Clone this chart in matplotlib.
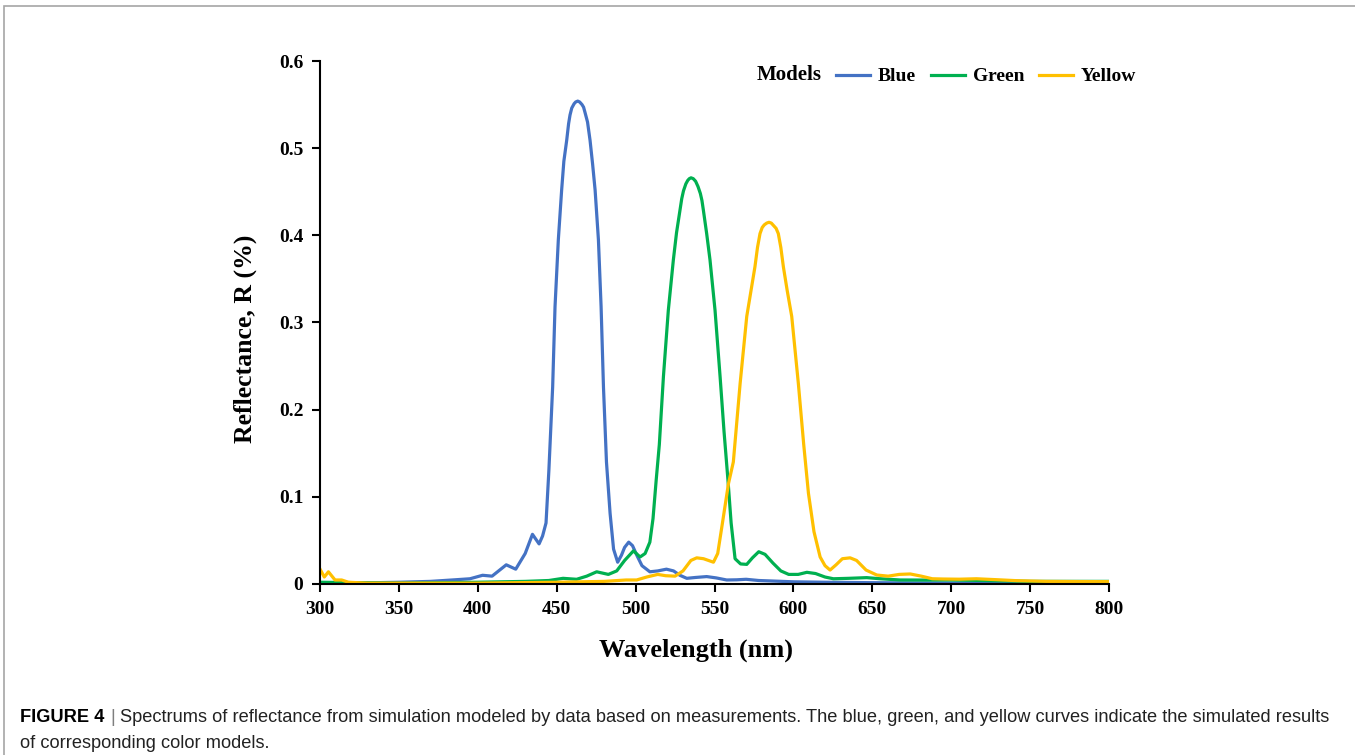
import matplotlib
matplotlib.use("Agg")
import matplotlib.pyplot as plt
from matplotlib.patches import Rectangle

# reflectance spectra (wavelength nm, reflectance)
blue_wl = [300, 320, 350, 370, 387, 395, 403, 409, 418, 424, 430, 434.6, 438.8, 441, 443.2,
           445, 447.4, 448.9, 451, 453.1, 454.5, 456.3, 457.5, 458.4, 459.5, 461, 462, 463.3,
           464.5, 466, 467, 467.9, 469.5, 471.1, 472.7, 474.3, 476.4, 478.1, 479.6, 481.5,
           483.8, 486, 488.6, 491, 493, 495.6, 498, 501, 504, 509, 514, 519.5, 524, 528, 532.4,
           538, 545, 551, 557.7, 564, 570, 578, 587, 600, 620, 650, 700, 750, 800]
blue_r = [0.001, 0.001, 0.002, 0.003, 0.005, 0.006, 0.010, 0.009, 0.022, 0.017, 0.035, 0.057,
          0.046, 0.055, 0.070, 0.130, 0.226, 0.318, 0.395, 0.452, 0.485, 0.509, 0.528, 0.538,
          0.546, 0.551, 0.553, 0.554, 0.553, 0.550, 0.547, 0.541, 0.530, 0.509, 0.482, 0.452,
          0.395, 0.318, 0.226, 0.140, 0.081, 0.040, 0.025, 0.033, 0.042, 0.048, 0.044, 0.032,
          0.021, 0.014, 0.015, 0.017, 0.015, 0.010, 0.0065, 0.0075, 0.0085, 0.007, 0.0046,
          0.0048, 0.0054, 0.004, 0.0034, 0.0025, 0.002, 0.0015, 0.001, 0.001, 0.001]

green_wl = [300, 350, 400, 430, 445, 454, 462.6, 469, 475.3, 482.7, 488, 493, 498.6, 502.8,
            506, 509, 511, 513, 515, 517.6, 520.7, 523.9, 525.9, 528.1, 529.2, 530.3, 531.8,
            533, 534, 535.1, 536.5, 538, 539.5, 541, 542, 542.9, 545, 547.1, 550.3, 553.5, 556,
            558.5, 560.5, 563, 566.5, 570.4, 574, 578, 582, 587, 592, 597, 603, 608.5, 614, 620,
            625.3, 635, 646.4, 655, 667.6, 685, 699, 720, 750, 800]
green_r = [0.002, 0.001, 0.002, 0.003, 0.004, 0.0065, 0.0054, 0.009, 0.014, 0.011, 0.015,
           0.027, 0.038, 0.031, 0.035, 0.048, 0.075, 0.119, 0.160, 0.238, 0.314, 0.372, 0.403,
           0.429, 0.442, 0.451, 0.459, 0.463, 0.465, 0.466, 0.465, 0.462, 0.456, 0.448, 0.440,
           0.429, 0.402, 0.372, 0.314, 0.238, 0.175, 0.119, 0.070, 0.029, 0.023, 0.0225, 0.030,
           0.037, 0.034, 0.024, 0.015, 0.011, 0.011, 0.0134, 0.012, 0.008, 0.006, 0.0065,
           0.0073, 0.006, 0.0046, 0.0045, 0.0046, 0.004, 0.003, 0.003]

yellow_wl = [300, 302.7, 305.3, 309.5, 313.7, 318, 330, 400, 450, 480, 494, 500.6, 507, 514,
             519, 525, 530, 535, 538.7, 543, 549.3, 552, 555, 558.8, 561.9, 566.2, 570.4, 575.6,
             577.2, 578.8, 580.2, 581.5, 583, 584.5, 586, 587.5, 589, 590.4, 592, 593.6, 596,
             598.9, 603.1, 606.5, 609.5, 613, 616.9, 620, 623.2, 627, 631, 635.9, 640, 646,
             652.8, 660, 667, 674, 681, 688, 695, 705, 716, 728, 741.5, 760, 780, 800]
yellow_r = [0.017, 0.008, 0.014, 0.0046, 0.0046, 0.002, 0.001, 0.001, 0.002, 0.003, 0.0046,
            0.0046, 0.008, 0.011, 0.0095, 0.009, 0.015, 0.027, 0.030, 0.029, 0.025, 0.035, 0.070,
            0.115, 0.140, 0.230, 0.307, 0.364, 0.386, 0.402, 0.409, 0.412, 0.414, 0.415, 0.414,
            0.411, 0.408, 0.402, 0.386, 0.364, 0.337, 0.307, 0.230, 0.160, 0.104, 0.060, 0.031,
            0.021, 0.016, 0.022, 0.029, 0.030, 0.027, 0.016, 0.0103, 0.009, 0.011, 0.0115,
            0.009, 0.006, 0.0057, 0.0055, 0.006, 0.005, 0.0038, 0.003, 0.0028, 0.0027]

x_ticks = [300, 350, 400, 450, 500, 550, 600, 650, 700, 750, 800]
y_ticks = [0, 0.1, 0.2, 0.3, 0.4, 0.5, 0.6]
y_tick_labels = ["0", "0.1", "0.2", "0.3", "0.4", "0.5", "0.6"]

serif = "Liberation Serif"

fig = plt.figure(figsize=(13.55, 7.55), dpi=100)
ax = fig.add_axes([0.2362, 0.2265, 0.8185 - 0.2362, 0.9192 - 0.2265])

ax.plot(blue_wl, blue_r, color="#4472C4", lw=2.3, label="Blue")
ax.plot(green_wl, green_r, color="#00B050", lw=2.3, label="Green")
ax.plot(yellow_wl, yellow_r, color="#FFC000", lw=2.3, label="Yellow")

ax.set_xlim(300, 800)
ax.set_ylim(0, 0.6)
ax.set_xticks(x_ticks)
ax.set_yticks(y_ticks)
ax.set_yticklabels(y_tick_labels)
for lab in ax.get_xticklabels() + ax.get_yticklabels():
    lab.set_fontfamily(serif)
    lab.set_fontweight("bold")
    lab.set_fontsize(14)
ax.tick_params(direction="out", length=6, width=1.5, pad=6)
ax.spines["top"].set_visible(False)
ax.spines["right"].set_visible(False)
ax.spines["left"].set_linewidth(1.5)
ax.spines["bottom"].set_linewidth(1.5)

ax.set_xlabel("Wavelength (nm)", fontfamily=serif, fontweight="bold", fontsize=19)
ax.xaxis.set_label_coords((696 - 320) / 789, -0.105)
ax.set_ylabel("Reflectance, R (%)", fontfamily=serif, fontweight="bold", fontsize=18.5)
ax.yaxis.set_label_coords(-0.0805, (584 - 339) / 523)

leg = ax.legend(ncol=3, frameon=False, loc="center left", bbox_to_anchor=(0.632, 0.97),
                handlelength=1.75, handletextpad=0.4, columnspacing=0.75,
                prop={"family": serif, "weight": "bold", "size": 14})
fig.text(757 / 1355, 1 - 75 / 755, "Models", fontfamily=serif, fontweight="bold",
         fontsize=15, va="center", ha="left")

# grey frame around the figure panel
fig.patches.append(Rectangle((4 / 1355, -0.1), 1.2, 1.1 - 6 / 755, transform=fig.transFigure,
                             fill=False, edgecolor="#a6a6a6", lw=1.2))

# caption
cap_font = ["Liberation Sans"]
cap_size = 13.15
t1 = fig.text(20 / 1355, 1 - 726 / 755, "FIGURE 4", fontfamily=cap_font, fontweight="bold",
              fontsize=cap_size, va="bottom")
t2 = ax.annotate("|", xy=(1, 0), xycoords=t1, xytext=(4, 0), textcoords="offset points",
                 fontfamily=cap_font, fontsize=cap_size, color="#7f7f7f", va="bottom",
                 annotation_clip=False)
ax.annotate("Spectrums of reflectance from simulation modeled by data based on measurements. "
            "The blue, green, and yellow curves indicate the simulated results",
            xy=(1, 0), xycoords=t2, xytext=(4, 0), textcoords="offset points",
            fontfamily=cap_font, fontsize=cap_size, color="#222222", va="bottom",
            annotation_clip=False)
fig.text(20 / 1355, 1 - 752 / 755, "of corresponding color models.", fontfamily=cap_font,
         fontsize=cap_size, color="#222222", va="bottom")

fig.savefig("out.png", dpi=100)
